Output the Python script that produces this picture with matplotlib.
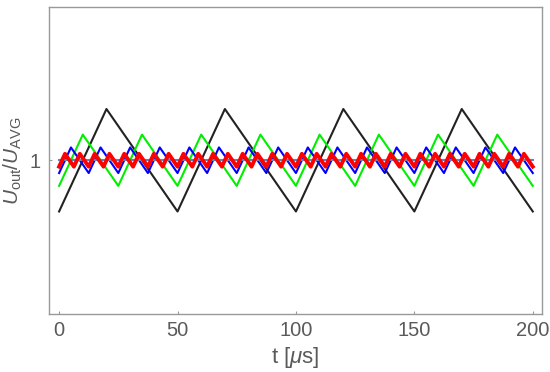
import numpy as np
import matplotlib
matplotlib.use("Agg")
import matplotlib.pyplot as plt

plt.rcParams['font.family'] = ['Liberation Sans', 'DejaVu Sans']
plt.rcParams['mathtext.fontset'] = 'custom'
plt.rcParams['mathtext.rm'] = 'Liberation Sans'
plt.rcParams['mathtext.it'] = 'Liberation Sans:italic'

# vertex times [us] of each triangular waveform (min, max, min, ...)
t_black = [0, 20, 50, 70, 100, 120, 150, 170, 200]
t_green = [0, 10, 25, 35, 50, 60, 75, 85, 100, 110, 125, 135, 150, 160, 175, 185, 200]
t_blue = [0, 5, 12.5, 17.5, 25, 30, 37.5, 42.5, 50, 55, 62.5, 67.5, 75, 80, 87.5, 92.5,
          100, 105, 112.5, 117.5, 125, 130, 137.5, 142.5, 150, 155, 162.5, 167.5,
          175, 180, 187.5, 192.5, 200]
t_red = [0, 2.5, 6.25, 8.75, 12.5, 15, 18.75, 21.25, 25, 27.5, 31.25, 33.75, 37.5, 40,
         43.75, 46.25, 50, 52.5, 56.25, 58.75, 62.5, 65, 68.75, 71.25, 75, 77.5, 81.25,
         83.75, 87.5, 90, 93.75, 96.25, 100, 102.5, 106.25, 108.75, 112.5, 115, 118.75,
         121.25, 125, 127.5, 131.25, 133.75, 137.5, 140, 143.75, 146.25, 150, 152.5,
         156.25, 158.75, 162.5, 165, 168.75, 171.25, 175, 177.5, 181.25, 183.75, 187.5,
         190, 193.75, 196.25, 200]

# (min, max) of U_out/U_AVG for each waveform
lev_black = (0.9, 1.1)
lev_green = (0.95, 1.05)
lev_blue = (0.975, 1.025)
lev_red = (0.9875, 1.0125)

ref_t = [0, 200]
ref_u = [1, 1]


def levels(t, lev):
    # alternate min / max at the vertices
    return [lev[i % 2] for i in range(len(t))]


fig = plt.figure(figsize=(5.5, 3.72), dpi=100)
ax = fig.add_axes([0.0898, 0.156, 0.8957, 0.8265])

ax.plot(t_black, levels(t_black, lev_black), color='#222222', lw=1.5, zorder=2)
ax.plot(t_green, levels(t_green, lev_green), color='#00ee00', lw=1.5, zorder=3)
ax.plot(t_blue, levels(t_blue, lev_blue), color='#0000ff', lw=1.5, zorder=4)
ax.plot(ref_t, ref_u, color='#5b84c4', lw=1.5, zorder=5)
ax.plot(t_red, levels(t_red, lev_red), color='#ff0000', lw=2.8, zorder=6)

ax.set_xlim(-4.1, 203.9)
ax.set_ylim(0.7, 1.3)
ax.set_xticks([0, 50, 100, 150, 200])
ax.set_yticks([1])

grey = '#5a5a5a'
for s in ax.spines.values():
    s.set_color('#999999')
    s.set_linewidth(1.0)
ax.tick_params(direction='in', length=2, color='#999999', labelcolor=grey, labelsize=14.5)
ax.tick_params(axis='y', pad=6)
ax.tick_params(axis='x', pad=5)

ax.set_xlabel(r't [$\mu$s]', fontsize=16, color=grey, labelpad=4)
ax.set_ylabel(r'$U_{\rm out}/U_{\rm AVG}$', fontsize=15, color=grey, labelpad=4)

fig.savefig('out.png', dpi=100)
